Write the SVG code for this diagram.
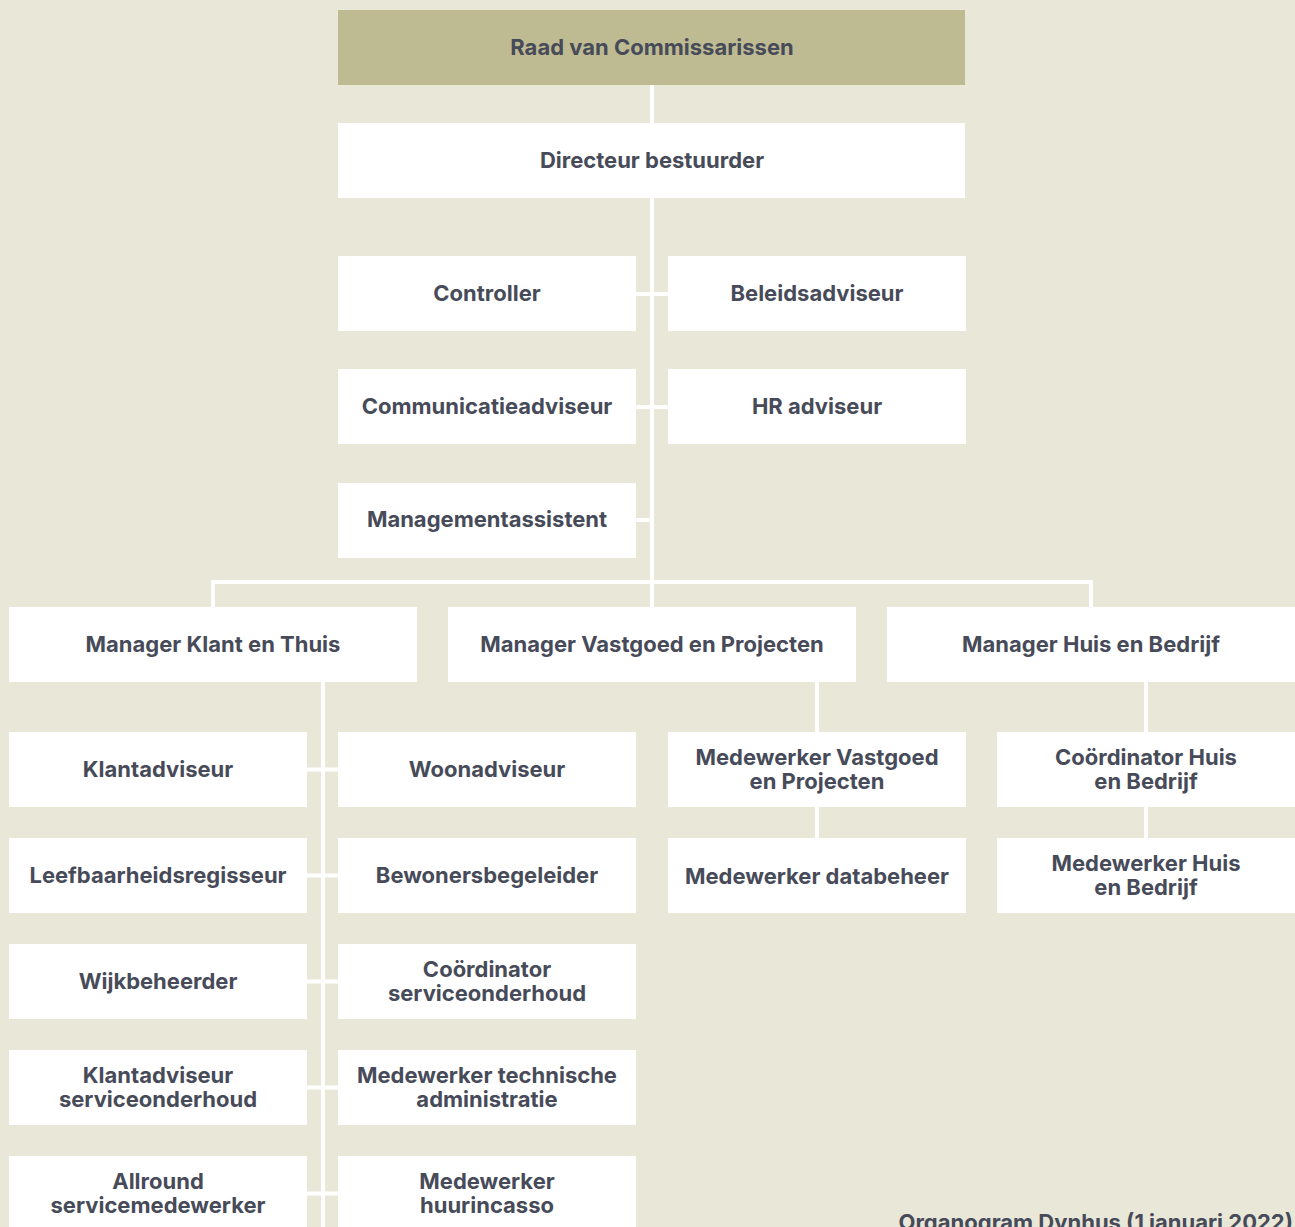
<svg xmlns="http://www.w3.org/2000/svg" width="1295" height="1227" viewBox="0 0 1295 1227">
<style>
.bg{fill:#e9e7d8}
.box{fill:#ffffff}
.top{fill:#bebb92}
.t{font-family:Inter,"Liberation Sans",sans-serif;font-weight:700;font-size:22px;fill:#474b59;text-anchor:middle}
.cap{font-family:Inter,"Liberation Sans",sans-serif;font-weight:700;font-size:22px;fill:#474b59;text-anchor:end}
.c{stroke:#ffffff;stroke-width:4;fill:none}
</style>
<rect class="bg" x="0" y="0" width="1295" height="1227"/>
<g id="connectors">
<path class="c" d="M652 85V582"/>
<path class="c" d="M636 294H668M636 407H668M636 520H652"/>
<path class="c" d="M213 607V582H1091V607M652 582V607"/>
<path class="c" d="M323 682V1227"/>
<path class="c" d="M307 769.5H338M307 875.5H338M307 981.5H338M307 1087.5H338M307 1193.5H338"/>
<path class="c" d="M817 682V838M1146 682V838"/>
</g>
<g id="raad"><rect class="top" x="338" y="10" width="627" height="75"/><text class="t" x="652" y="55">Raad van Commissarissen</text></g>
<g id="directeur"><rect class="box" x="338" y="123" width="627" height="75"/><text class="t" x="652" y="168">Directeur bestuurder</text></g>
<g id="controller"><rect class="box" x="338" y="256" width="298" height="75"/><text class="t" x="487" y="301">Controller</text></g>
<g id="beleidsadviseur"><rect class="box" x="668" y="256" width="298" height="75"/><text class="t" x="817" y="301">Beleidsadviseur</text></g>
<g id="communicatieadviseur"><rect class="box" x="338" y="369" width="298" height="75"/><text class="t" x="487" y="414">Communicatieadviseur</text></g>
<g id="hradviseur"><rect class="box" x="668" y="369" width="298" height="75"/><text class="t" x="817" y="414">HR adviseur</text></g>
<g id="managementassistent"><rect class="box" x="338" y="483" width="298" height="75"/><text class="t" x="487" y="527">Managementassistent</text></g>
<g id="mgr-klant"><rect class="box" x="9" y="607" width="408" height="75"/><text class="t" x="213" y="652">Manager Klant en Thuis</text></g>
<g id="mgr-vastgoed"><rect class="box" x="448" y="607" width="408" height="75"/><text class="t" x="652" y="652">Manager Vastgoed en Projecten</text></g>
<g id="mgr-huis"><rect class="box" x="887" y="607" width="408" height="75"/><text class="t" x="1091" y="652">Manager Huis en Bedrijf</text></g>
<g id="klantadviseur"><rect class="box" x="9" y="732" width="298" height="75"/><text class="t" x="158" y="777">Klantadviseur</text></g>
<g id="woonadviseur"><rect class="box" x="338" y="732" width="298" height="75"/><text class="t" x="487" y="777">Woonadviseur</text></g>
<g id="leefbaarheidsregisseur"><rect class="box" x="9" y="838" width="298" height="75"/><text class="t" x="158" y="883">Leefbaarheidsregisseur</text></g>
<g id="bewonersbegeleider"><rect class="box" x="338" y="838" width="298" height="75"/><text class="t" x="487" y="883">Bewonersbegeleider</text></g>
<g id="wijkbeheerder"><rect class="box" x="9" y="944" width="298" height="75"/><text class="t" x="158" y="989">Wijkbeheerder</text></g>
<g id="coord-service"><rect class="box" x="338" y="944" width="298" height="75"/><text class="t" x="487" y="977">Coördinator</text><text class="t" x="487" y="1001">serviceonderhoud</text></g>
<g id="klant-service"><rect class="box" x="9" y="1050" width="298" height="75"/><text class="t" x="158" y="1083">Klantadviseur</text><text class="t" x="158" y="1107">serviceonderhoud</text></g>
<g id="mw-techadmin"><rect class="box" x="338" y="1050" width="298" height="75"/><text class="t" x="487" y="1083">Medewerker technische</text><text class="t" x="487" y="1107">administratie</text></g>
<g id="allround"><rect class="box" x="9" y="1156" width="298" height="75"/><text class="t" x="158" y="1189">Allround</text><text class="t" x="158" y="1213">servicemedewerker</text></g>
<g id="mw-huurincasso"><rect class="box" x="338" y="1156" width="298" height="75"/><text class="t" x="487" y="1189">Medewerker</text><text class="t" x="487" y="1213">huurincasso</text></g>
<g id="mw-vastgoed"><rect class="box" x="668" y="732" width="298" height="75"/><text class="t" x="817" y="765">Medewerker Vastgoed</text><text class="t" x="817" y="789">en Projecten</text></g>
<g id="mw-databeheer"><rect class="box" x="668" y="838" width="298" height="75"/><text class="t" x="817" y="884">Medewerker databeheer</text></g>
<g id="coord-huis"><rect class="box" x="997" y="732" width="298" height="75"/><text class="t" x="1146" y="765">Coördinator Huis</text><text class="t" x="1146" y="789">en Bedrijf</text></g>
<g id="mw-huis"><rect class="box" x="997" y="838" width="298" height="75"/><text class="t" x="1146" y="871">Medewerker Huis</text><text class="t" x="1146" y="895">en Bedrijf</text></g>
<text class="cap" x="1293" y="1230">Organogram Dynhus (1 januari 2022)</text>
</svg>
